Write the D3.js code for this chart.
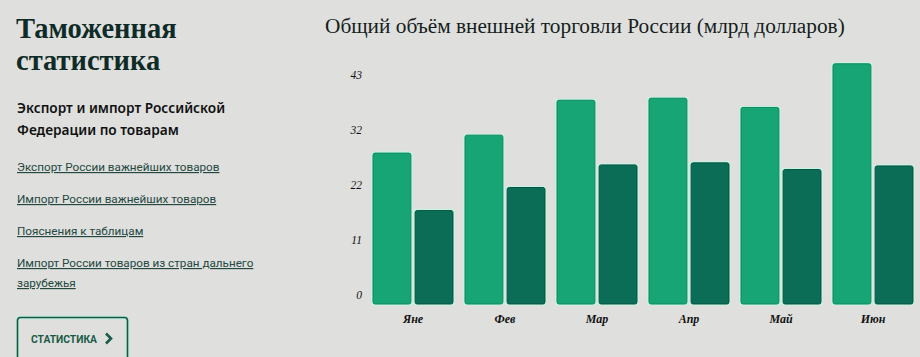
<!DOCTYPE html>
<html><head><meta charset="utf-8">
<script src="https://cdn.jsdelivr.net/npm/d3@7/dist/d3.min.js"></script>
<style>
html,body{margin:0;padding:0;background:#dfe0de;}
svg{display:block;}
</style></head>
<body>
<svg id="c" width="920" height="357"></svg>
<script>
const months = ["Яне","Фев","Мар","Апр","Май","Июн"];
const seriesKeys = ["export","import"];
const exportVals = [29.4, 32.9, 39.7, 40.1, 38.3, 46.8];
const importVals = [18.2, 22.7, 27.1, 27.5, 26.2, 26.9];
const tickVals = [0, 10.75, 21.5, 32.25, 43];
const tickLabels = ["0","11","22","32","43"];
const chartTitle = "Общий объём внешней торговли России (млрд долларов)";
const sideTitle = ["Таможенная","статистика"];
const sideSub = ["Экспорт и импорт Российской","Федерации по товарам"];
const links = [["Экспорт России важнейших товаров"],["Импорт России важнейших товаров"],["Пояснения к таблицам"],["Импорт России товаров из стран дальнего","зарубежья"]];
const buttonText = "СТАТИСТИКА";

const svg = d3.select("#c");
svg.append("rect").attr("width",920).attr("height",357).attr("fill","#dfe0de");

// Left panel
const head = svg.append("text").attr("font-family","'Liberation Serif', serif").attr("font-weight","bold")
  .attr("font-size",28.5).attr("fill","#0f2b27");
sideTitle.forEach((t,i)=>head.append("tspan").attr("x",16).attr("y",38+i*32).text(t));

const sub = svg.append("text").attr("font-family","'Noto Sans', sans-serif").attr("font-weight","600")
  .attr("font-size",13.7).attr("fill","#111");
sideSub.forEach((t,i)=>sub.append("tspan").attr("x",17).attr("y",113+i*21.5).text(t));

let ly = 171;
links.forEach(lines=>{
  lines.forEach((t,j)=>{
    svg.append("text").attr("x",17).attr("y",ly+j*20)
      .attr("font-family","Roboto, sans-serif").attr("font-size",11.7).attr("fill","#24473f")
      .attr("text-decoration","underline").text(t);
  });
  ly += 32;
});

// button
svg.append("rect").attr("x",17.5).attr("y",317.5).attr("width",110).attr("height",50).attr("rx",3)
  .attr("fill","none").attr("stroke","#b9eedb").attr("stroke-width",3.5);
svg.append("rect").attr("x",17.5).attr("y",317.5).attr("width",110).attr("height",50).attr("rx",3)
  .attr("fill","none").attr("stroke","#1d5446").attr("stroke-width",1.6);
svg.append("text").attr("x",31).attr("y",342.5).attr("font-family","Roboto, sans-serif")
  .attr("font-weight","bold").attr("font-size",11.5).attr("fill","#1b5a47")
  .attr("textLength",66).attr("lengthAdjust","spacingAndGlyphs").text(buttonText);
svg.append("path").attr("d","M106,333.5 L111,338.5 L106,343.5").attr("fill","none")
  .attr("stroke","#1b5a47").attr("stroke-width",2.6);

// Chart
svg.append("text").attr("x",325).attr("y",33).attr("font-family","'Liberation Serif', serif")
  .attr("font-size",21.3).attr("fill","#15201d").text(chartTitle);

const y = d3.scaleLinear().domain([0,43]).range([304, 83.3]);
const x0 = d3.scaleBand().domain(months).range([367,919]).paddingInner(0.1304).paddingOuter(0.0652);
const x1 = d3.scaleBand().domain(seriesKeys).range([0,x0.bandwidth()]).paddingInner(0.1);
const colors = {export:"#17a575", import:"#0b6d55"};
const edge = {export:"#0f8660", import:"#075443"};

const data = months.map((m,i)=>({m, export:exportVals[i], import:importVals[i]}));

const yAxis = d3.axisLeft(y).tickValues(tickVals).tickFormat((d,i)=>tickLabels[i]).tickSize(0).tickPadding(0);
const ga = svg.append("g").attr("transform","translate(362,0)").call(yAxis);
ga.select(".domain").remove();
ga.selectAll("text").attr("font-family","'Liberation Serif', serif").attr("font-style","italic")
  .attr("font-size",11.5).attr("fill","#111").attr("dy","-0.45em");

const g = svg.append("g");
const groups = g.selectAll("g.grp").data(data).join("g").attr("class","grp")
  .attr("transform",d=>`translate(${x0(d.m)},0)`);
groups.selectAll("rect.glow").data(d=>seriesKeys.map(k=>({k,v:d[k]}))).join("rect").attr("class","glow")
  .attr("x",d=>x1(d.k)).attr("y",d=>y(d.v)).attr("width",x1.bandwidth()).attr("height",d=>y(0)-y(d.v))
  .attr("rx",2).attr("fill","none").attr("stroke","#c4f7e2").attr("stroke-width",3);
groups.selectAll("rect.bar").data(d=>seriesKeys.map(k=>({k,v:d[k]}))).join("rect").attr("class","bar")
  .attr("x",d=>x1(d.k)).attr("y",d=>y(d.v)).attr("width",x1.bandwidth()).attr("height",d=>y(0)-y(d.v))
  .attr("rx",2).attr("fill",d=>colors[d.k]).attr("stroke",d=>edge[d.k]).attr("stroke-width",1);

const xAxis = d3.axisBottom(x0).tickSize(0).tickPadding(0);
const gx = svg.append("g").attr("transform","translate(0,304)").call(xAxis);
gx.select(".domain").remove();
gx.selectAll("text").attr("font-family","'Liberation Serif', serif").attr("font-style","italic")
  .attr("font-weight","bold").attr("font-size",12).attr("fill","#111").attr("dy","1.55em");
</script>
</body></html>
